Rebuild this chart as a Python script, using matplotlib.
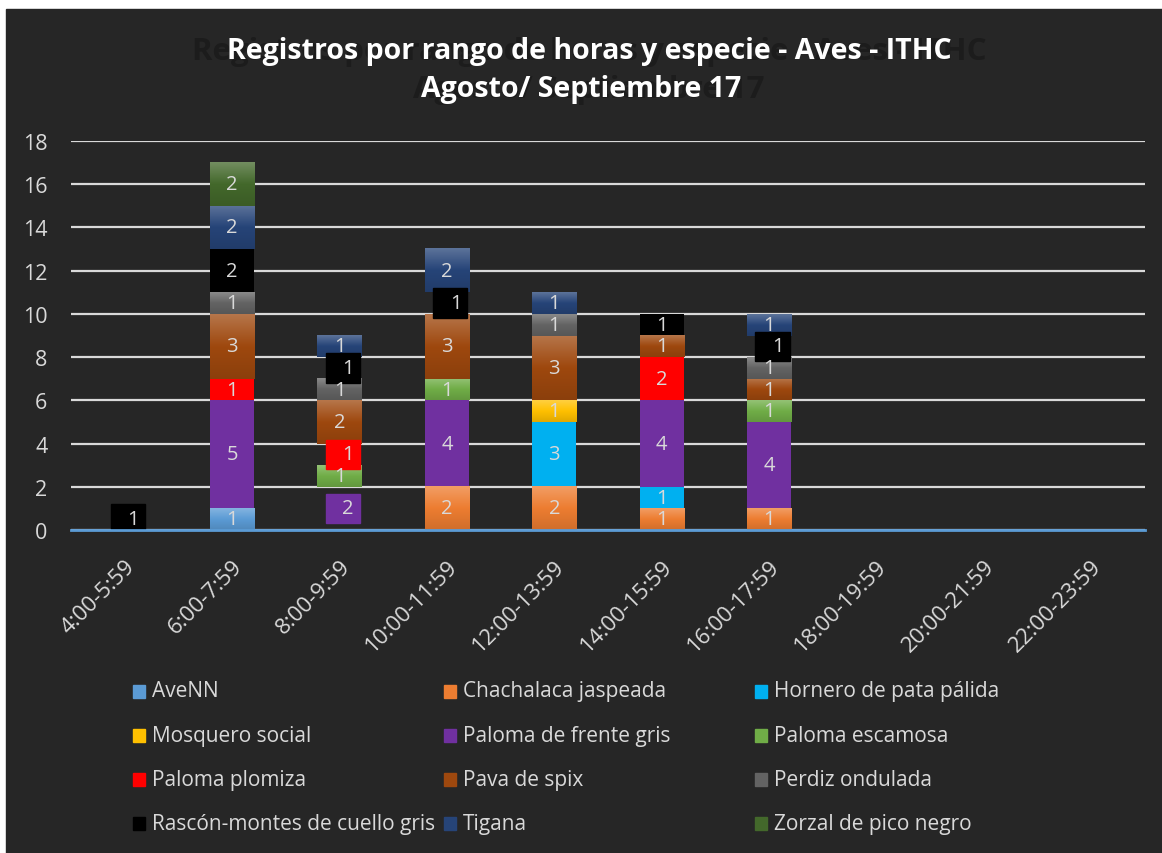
import numpy as np
import matplotlib.pyplot as plt
from matplotlib.patches import Rectangle
from matplotlib.colors import to_rgb, LinearSegmentedColormap
from matplotlib.transforms import ScaledTranslation

plt.rcParams['font.family'] = ['Open Sans', 'DejaVu Sans']

hours = ["4:00-5:59", "6:00-7:59", "8:00-9:59", "10:00-11:59", "12:00-13:59",
         "14:00-15:59", "16:00-17:59", "18:00-19:59", "20:00-21:59", "22:00-23:59"]

species = ["AveNN", "Chachalaca jaspeada", "Hornero de pata pálida",
           "Mosquero social", "Paloma de frente gris", "Paloma escamosa",
           "Paloma plomiza", "Pava de spix", "Perdiz ondulada",
           "Rascón-montes de cuello gris", "Tigana", "Zorzal de pico negro"]

# counts per species for each hour range
ave_nn      = [0, 1, 0, 0, 0, 0, 0, 0, 0, 0]
chachalaca  = [0, 0, 0, 2, 2, 1, 1, 0, 0, 0]
hornero     = [0, 0, 0, 0, 3, 1, 0, 0, 0, 0]
mosquero    = [0, 0, 0, 0, 1, 0, 0, 0, 0, 0]
frente_gris = [0, 5, 2, 4, 0, 4, 4, 0, 0, 0]
escamosa    = [0, 0, 1, 1, 0, 0, 1, 0, 0, 0]
plomiza     = [0, 1, 1, 0, 0, 2, 0, 0, 0, 0]
pava        = [0, 3, 2, 3, 3, 1, 1, 0, 0, 0]
perdiz      = [0, 1, 1, 0, 1, 0, 1, 0, 0, 0]
rascon      = [1, 2, 1, 1, 0, 1, 1, 0, 0, 0]
tigana      = [0, 2, 1, 2, 1, 0, 1, 0, 0, 0]
zorzal      = [0, 2, 0, 0, 0, 0, 0, 0, 0, 0]

series = [ave_nn, chachalaca, hornero, mosquero, frente_gris, escamosa,
          plomiza, pava, perdiz, rascon, tigana, zorzal]

colors = ["#5B9BD5", "#ED7D31", "#00B0F0", "#FFC000", "#7030A0", "#70AD47",
          "#FF0000", "#9E480E", "#636363", "#000000", "#264478", "#43682B"]
shaded = [True, True, False, True, False, True, False, True, True, False, True, True]

# segments that only show up as a floating data label box (hour idx, species idx)
label_only = [(0, 9), (2, 4), (2, 6), (2, 9), (3, 9), (6, 9)]

bg = "#262626"
txt = "#d9d9d9"

fig = plt.figure(figsize=(11.62, 8.54), dpi=100, facecolor="white")
fig.patches.append(Rectangle((6 / 1162, 0), 1, 1 - 10 / 854, transform=fig.transFigure,
                             color=bg, zorder=-10))

ax = fig.add_axes([71 / 1162, 1 - 531 / 854, (1145 - 71) / 1162, (531 - 142) / 854])
ax.set_facecolor(bg)

x = np.arange(len(hours))
width = 0.41
bottom = np.zeros(len(hours))


def shade_cmap(c):
    base = np.array(to_rgb(c))
    light = base + (1 - base) * 0.25
    dark = base * 0.88
    return LinearSegmentedColormap.from_list("g", [dark, base, light])


grad = np.linspace(0, 1, 64).reshape(-1, 1)

for i, vals in enumerate(series):
    vals = np.array(vals, dtype=float)
    drawn = vals.copy()
    for (h, s) in label_only:
        if s == i:
            drawn[h] = 0
    bars = ax.bar(x, drawn, width, bottom=bottom, color=colors[i], zorder=2)
    if shaded[i]:
        cmap = shade_cmap(colors[i])
        for b in bars:
            if b.get_height() > 0:
                ax.imshow(grad, extent=(b.get_x(), b.get_x() + b.get_width(),
                                        b.get_y(), b.get_y() + b.get_height()),
                          origin="lower", cmap=cmap, aspect="auto", zorder=2.1)
    for j, v in enumerate(vals):
        if v <= 0:
            continue
        mid = bottom[j] + v / 2
        if (j, i) in label_only:
            ax.add_patch(Rectangle((x[j] + 0.03 - 0.16, mid - 0.68), 0.32, 1.36,
                                   color=colors[i], zorder=4))
            ax.text(x[j] + 0.08, mid, f"{int(v)}", ha="center", va="center",
                    color=txt, fontsize=14.5, zorder=5)
        else:
            ax.text(x[j], mid, f"{int(v)}", ha="center", va="center",
                    color=txt, fontsize=14.5, zorder=5)
    bottom += vals

ax.set_xlim(-0.5, len(hours) - 0.5)
ax.set_ylim(0, 18)
ax.set_yticks(range(0, 19, 2))
ax.set_xticks(x)
ax.set_xticklabels(hours, rotation=45, ha="right", va="top", rotation_mode="anchor")
ax.tick_params(axis="both", length=0, colors=txt)
ax.tick_params(axis="y", pad=17, labelsize=15.5)
ax.tick_params(axis="x", pad=12, labelsize=16)
# nudge the slanted hour labels a bit lower
for lab in ax.get_xticklabels():
    lab.set_transform(lab.get_transform() + ScaledTranslation(0, -0.09, fig.dpi_scale_trans))
ax.grid(axis="y", color=txt, linewidth=1.6, zorder=0)
ax.set_axisbelow(True)
for side in ["top", "right", "left"]:
    ax.spines[side].set_visible(False)
ax.spines["bottom"].set_color("#5B9BD5")
ax.spines["bottom"].set_linewidth(2)
ax.spines["bottom"].set_zorder(6)

# title with faint shadow behind
line1 = "Registros por rango de horas y especie - Aves - ITHC"
line2 = "Agosto/ Septiembre 17"
fig.text(0.507, 1 - 52 / 854, line1, ha="center", va="center", fontsize=22.5,
         fontweight="bold", color="#1c1c1c")
fig.text(0.507, 1 - 90 / 854, line2, ha="center", va="center", fontsize=22.5,
         fontweight="bold", color="#1c1c1c")
fig.text(0.507, 1 - 52 / 854, line1, ha="center", va="center", fontsize=20.5,
         fontweight="bold", color="white")
fig.text(0.5, 1 - 90 / 854, line2, ha="center", va="center", fontsize=20.5,
         fontweight="bold", color="white")

# legend, laid out row by row in three columns
for k, name in enumerate(species):
    row, col = k // 3, k % 3
    xm = (133 + col * 311) / 1162
    yc = 1 - (692 + row * 44.3) / 854
    fig.patches.append(Rectangle((xm, yc - 6.5 / 854), 12 / 1162, 13 / 854,
                                 transform=fig.transFigure, color=colors[k]))
    fig.text(xm + 19 / 1162, yc, name, ha="left", va="center", fontsize=15, color=txt)

fig.savefig("out.png", dpi=100, facecolor=fig.get_facecolor())
